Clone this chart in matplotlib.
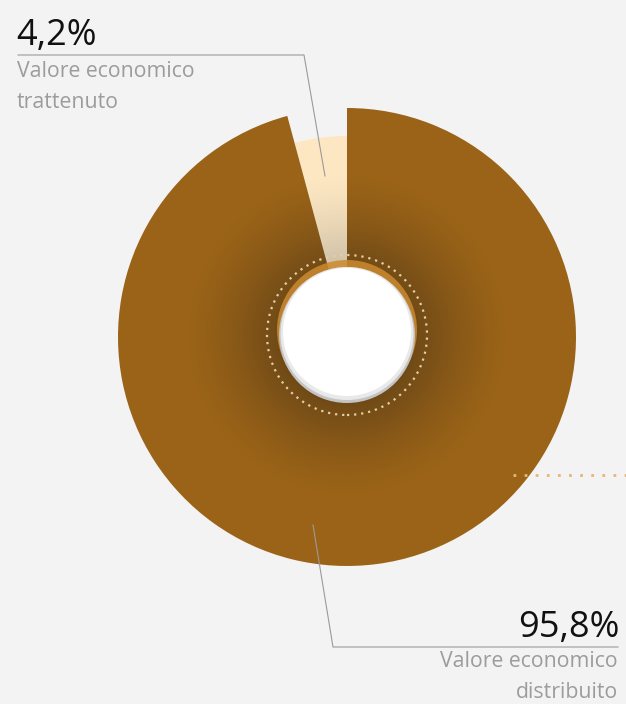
import numpy as np
import matplotlib.pyplot as plt
from matplotlib.patches import Circle

# valore economico generato e distribuito (%)
labels = ['Valore economico\ntrattenuto', 'Valore economico\ndistribuito']
values = [4.2, 95.8]
value_text = ['4,2%', '95,8%']
colors = ['#FDE7C2', '#9A6318']

W, H = 626, 704
cx, cy = 347, H - 337
R = 229
R_small = 201

fig = plt.figure(figsize=(W / 100, H / 100), dpi=100)
fig.patch.set_facecolor('#F3F3F3')
ax = fig.add_axes([0, 0, 1, 1])
ax.set_facecolor('#F3F3F3')

wedges, _ = ax.pie(values, colors=colors, startangle=90, counterclock=True,
                   center=(cx, cy), radius=R, frame=False,
                   wedgeprops=dict(linewidth=0))
wedges[0].set_radius(R_small)

# radial shading around the hole, darker on the brown slice
n = 600
xs = np.linspace(cx - 200, cx + 200, n)
ys = np.linspace(cy - 200, cy + 200, n)
X, Y = np.meshgrid(xs, ys)
r = np.hypot(X - cx, Y - (cy + 2))
t = np.clip(1 - (r - 68) / 95, 0, 1)


def shade_img(rgb, amax, power):
    img = np.zeros((n, n, 4))
    img[..., :3] = rgb
    img[..., 3] = amax * t ** power
    return img


for w, rgb, amax in [(wedges[1], 0.08, 0.32), (wedges[0], 0.45, 0.35)]:
    im = ax.imshow(shade_img(rgb, amax, 1.4), extent=(xs[0], xs[-1], ys[0], ys[-1]),
                   origin='lower', interpolation='bilinear', zorder=2)
    im.set_clip_path(w)

# highlight + button in the middle
ax.add_patch(Circle((cx, cy + 7), 70, color='#CC8A2E', alpha=0.85, zorder=3, lw=0))
ax.add_patch(Circle((cx, cy + 2), 68, color='#C4C4C4', zorder=4, lw=0))
ax.add_patch(Circle((cx, cy + 3.5), 66.5, color='#E9E9E9', zorder=4.5, lw=0))
ax.add_patch(Circle((cx, cy + 5), 64, color='#FFFFFF', zorder=5, lw=0))
ax.add_patch(Circle((cx, cy + 2), 80, fill=False, ec='#E6CFA8',
                    lw=1.6, ls=(0, (1, 2.2)), zorder=6))

# dotted line on the right
ax.plot([513, W], [H - 475, H - 475], color='#E9B575', lw=2,
        ls=(0, (1, 3)), zorder=6)

# leader lines
line_kw = dict(color='#9A9A9A', lw=0.8, zorder=7)
ax.plot([18, 304, 325], [H - 55, H - 55, H - 176], **line_kw)
ax.plot([313, 333, 618], [H - 525, H - 647, H - 647], **line_kw)

font = 'Open Sans'
ax.text(16, H - 45, value_text[0], fontsize=26, family=font, color='#111111',
        ha='left', va='baseline')
ax.text(17, H - 77, labels[0].split('\n')[0], fontsize=15.3, family=font,
        color='#9C9C9C', ha='left', va='baseline')
ax.text(17, H - 108, labels[0].split('\n')[1], fontsize=15.3, family=font,
        color='#9C9C9C', ha='left', va='baseline')

ax.text(619, H - 637, value_text[1], fontsize=26, family=font, color='#111111',
        ha='right', va='baseline')
ax.text(618, H - 667, labels[1].split('\n')[0], fontsize=15.3, family=font,
        color='#9C9C9C', ha='right', va='baseline')
ax.text(618, H - 698, labels[1].split('\n')[1], fontsize=15.3, family=font,
        color='#9C9C9C', ha='right', va='baseline')

ax.set_xlim(0, W)
ax.set_ylim(0, H)
ax.set_aspect('equal')
ax.axis('off')

fig.savefig('out.png', dpi=100, facecolor=fig.get_facecolor())
